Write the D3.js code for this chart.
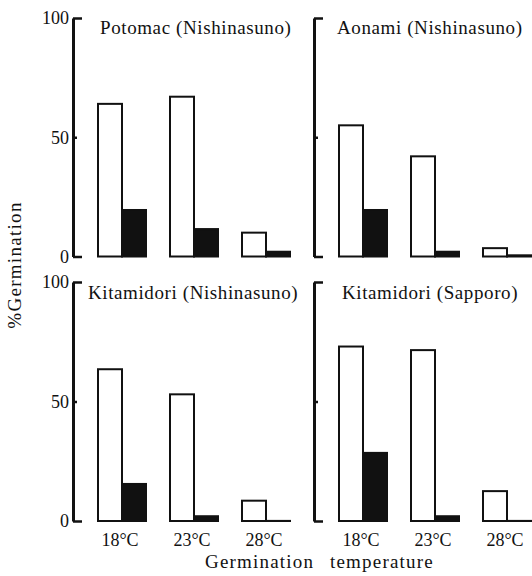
<!DOCTYPE html>
<html>
<head>
<meta charset="utf-8">
<script src="https://cdn.jsdelivr.net/npm/d3@7"></script>
<style>
  body { margin: 0; background: #fff; }
  svg text { font-family: "Liberation Serif", "DejaVu Serif", serif; fill: #111; }
</style>
</head>
<body>
<div id="graf"></div>
<script>
// datos
temps = ['18°C', '23°C', '28°C']
panelTitles = ['Potomac (Nishinasuno)', 'Aonami (Nishinasuno)',
        'Kitamidori (Nishinasuno)', 'Kitamidori (Sapporo)']
openValues = [[64, 67, 10], [55, 42, 3.5], [63.5, 53, 8.5], [73, 71.5, 12.5]]
filledValues = [[19.5, 11.5, 2], [19.5, 2, 0.5], [15.5, 2, 0], [28.5, 2, 0]]
yTicks = [0, 50, 100]

ancho_total = 532
alto_total = 576

svg = d3.select('#graf').append('svg')
        .attr('width', ancho_total)
        .attr('height', alto_total)

// posiciones de los paneles
axisX = [73, 314]
rowY0 = [256.5, 521]
rowY100 = [18, 282]

panelTitles.forEach((title, i) => {
        col = i % 2
        row = Math.floor(i / 2)
        ax = axisX[col]

        y = d3.scaleLinear().domain([0, 100]).range([rowY0[row], rowY100[row]])
        x = d3.scaleBand().domain(temps).range([ax + 25, ax + 217])
                .paddingInner(1 / 3).paddingOuter(0)
        xs = d3.scaleBand().domain(['open', 'filled']).range([0, x.bandwidth()])

        g = svg.append('g')

        // barras (altura minima para que las de 0 se vean como linea)
        temps.forEach((t, j) => {
                g.append('rect')
                        .attr('x', x(t) + xs('open'))
                        .attr('y', y(openValues[i][j]))
                        .attr('width', xs.bandwidth())
                        .attr('height', Math.max(y(0) - y(openValues[i][j]), 0.1))
                        .attr('fill', '#fff')
                        .attr('stroke', '#111')
                        .attr('stroke-width', 2)
                g.append('rect')
                        .attr('x', x(t) + xs('filled'))
                        .attr('y', Math.min(y(filledValues[i][j]), y(0) - 0.1))
                        .attr('width', xs.bandwidth())
                        .attr('height', Math.max(y(0) - y(filledValues[i][j]), 0.1))
                        .attr('fill', '#111')
                        .attr('stroke', '#111')
                        .attr('stroke-width', 2)
        })

        // eje Y (corchete)
        yAxis = d3.axisLeft(y).tickValues(yTicks)
                .tickSizeInner(-9).tickSizeOuter(0).tickPadding(4)
        if (col == 1) yAxis.tickFormat('')
        ya = g.append('g')
                .attr('transform', `translate(${ax}, 0)`)
                .call(yAxis)
        ya.select('.domain').attr('stroke', '#111').attr('stroke-width', 3)
        ya.selectAll('.tick line').attr('stroke', '#111').attr('stroke-width', 2.5)
                .attr('x2', d => d == 50 ? 4 : 9)
        ya.selectAll('.tick text').style('font-size', '18px')

        // eje X
        if (row == 1) {
                xa = g.append('g')
                        .attr('transform', `translate(0, ${y(0)})`)
                        .call(d3.axisBottom(x).tickSize(0).tickPadding(12))
                xa.select('.domain').remove()
                xa.selectAll('.tick text').style('font-size', '18px').attr('dx', '-2')
        }

        // titulo
        g.append('text')
                .attr('x', ax + (col == 0 ? (row == 0 ? 27 : 15) : (row == 0 ? 23 : 28)))
                .attr('y', y(100) + (row == 0 ? 16 : 17))
                .style('font-size', '19px')
                .style('letter-spacing', '0.6px')
                .text(title)
})

// titulos de ejes
svg.append('text')
        .attr('transform', 'translate(21, 265) rotate(-90)')
        .attr('text-anchor', 'middle')
        .style('font-size', '19px')
        .style('letter-spacing', '1.3px')
        .text('%Germination')

svg.append('text')
        .attr('x', 205)
        .attr('y', 568)
        .style('font-size', '19px')
        .style('letter-spacing', '1.2px')
        .text('Germination')

svg.append('text')
        .attr('x', 330)
        .attr('y', 568)
        .style('font-size', '19px')
        .style('letter-spacing', '1.2px')
        .text('temperature')
</script>
</body>
</html>
